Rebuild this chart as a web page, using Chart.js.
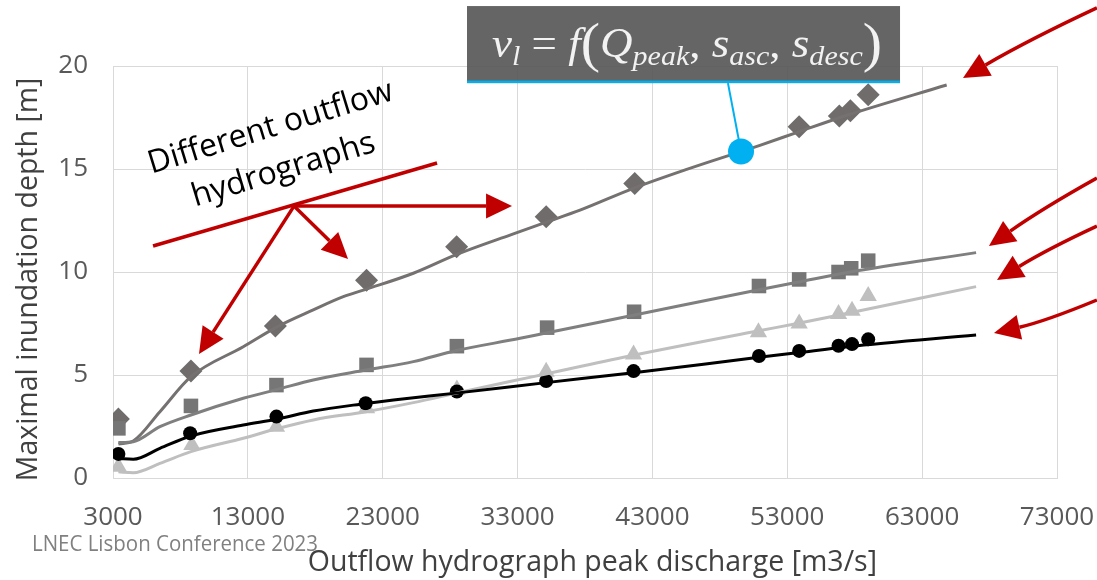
<!DOCTYPE html>
<html><head><meta charset="utf-8">
<script src="https://cdn.jsdelivr.net/npm/chart.js@4.4.1/dist/chart.umd.min.js"></script>
<style>html,body{margin:0;padding:0;background:#fff;}#wrap{width:1097px;height:580px;position:relative}</style>
</head><body><div id="wrap"><canvas id="c" width="1097" height="580"></canvas></div>
<script>
// ---- tick labels ----
const xTicks = [3000, 13000, 23000, 33000, 43000, 53000, 63000, 73000];
const yTicks = [0, 5, 10, 15, 20];

// ---- measured points ----
const diamondX = [3400, 8780, 15040, 21800, 28480, 35120, 41690, 53880, 56860, 57680, 59000];
const diamondY = [2.86, 5.2, 7.38, 9.6, 11.22, 12.68, 14.3, 17.05, 17.57, 17.83, 18.6];

const squareX = [3400, 8780, 15120, 21800, 28500, 35190, 41640, 50900, 53880, 56800, 57740, 59000];
const squareY = [2.41, 3.5, 4.51, 5.49, 6.4, 7.3, 8.07, 9.32, 9.64, 10.0, 10.18, 10.55];

const triangleX = [3400, 8850, 15120, 21800, 28500, 35120, 41600, 50860, 53880, 56800, 57800, 59000];
const triangleY = [0.55, 1.6, 2.49, 3.38, 4.3, 5.16, 6.0, 7.07, 7.5, 7.96, 8.12, 8.83];

const circleX = [3400, 8720, 15120, 21740, 28500, 35120, 41600, 50900, 53880, 56800, 57800, 59000];
const circleY = [1.17, 2.17, 2.98, 3.63, 4.2, 4.71, 5.19, 5.92, 6.17, 6.42, 6.5, 6.73];

// ---- fitted curves ----
const diamondFitX = [3400, 4500, 6480, 8780, 12660, 15200, 17850, 20080, 21760, 25270, 28410, 32690, 35030, 37630, 41580, 45540, 50970, 53740, 57480, 64820];
const diamondFitY = [1.65, 1.8, 3.22, 4.92, 6.37, 7.35, 8.16, 8.8, 9.16, 9.94, 10.83, 11.85, 12.4, 13.0, 14.06, 14.98, 16.15, 16.78, 17.62, 19.08];

const squareFitX = [3400, 4500, 6480, 8780, 12660, 15200, 17850, 21760, 25270, 28410, 33190, 35100, 41580, 50900, 53740, 57480, 67000];
const squareFitY = [1.72, 1.76, 2.49, 3.06, 3.87, 4.3, 4.76, 5.24, 5.65, 6.18, 6.78, 7.04, 7.9, 9.14, 9.5, 9.98, 10.94];

const triangleFitX = [3400, 4500, 6480, 8780, 12660, 15200, 17850, 21760, 25270, 28410, 32690, 35100, 41580, 50900, 53740, 57480, 67000];
const triangleFitY = [0.3, 0.26, 0.71, 1.28, 1.93, 2.4, 2.82, 3.22, 3.66, 4.11, 4.72, 5.05, 5.96, 7.15, 7.5, 8.0, 9.29];

const circleFitX = [3400, 4500, 6480, 8780, 12660, 15200, 17850, 21760, 23800, 28410, 35120, 41600, 50900, 53740, 57480, 67000];
const circleFitY = [0.95, 0.91, 1.44, 2.04, 2.57, 2.86, 3.25, 3.62, 3.79, 4.12, 4.63, 5.11, 5.86, 6.08, 6.37, 6.94];

// ---- annotation anchors (data units) ----
const bracketLine = [[5970, 11.26], [27030, 15.29]];
const bracketJoint = [16420, 13.2];
const bracketTips = [[32590, 13.2], [20430, 10.63], [9380, 6.02]];
const rightArrows = [
  {from: [75960, 22.82], ctrl: [71000, 21.3], tip: [66030, 19.42]},
  {from: [75960, 14.56], ctrl: [71960, 13.1], tip: [67955, 11.26]},
  {from: [75960, 12.23], ctrl: [72256, 11.1], tip: [68550, 9.61]},
  {from: [75960, 8.64], ctrl: [72108, 7.6], tip: [68330, 7.04]}
];
const formulaBox = [[29250, 22.91], [61360, 19.17]];
const calloutDot = [49570, 15.85];
const calloutFoot = [48600, 19.17];
const labelCenter = [15161, 15.97];
const labelLines = ['Different outflow', 'hydrographs'];
const footerText = 'LNEC Lisbon Conference 2023';

const pts = (xs, ys) => xs.map((v, i) => ({x: v, y: ys[i]}));
const FONT = '"Open Sans", "Liberation Sans", sans-serif';

const RED = '#c00000';
function arrowHead(ctx, tip, from, len, hw) {
  const a = Math.atan2(tip[1] - from[1], tip[0] - from[0]);
  const bx = tip[0] - len * Math.cos(a), by = tip[1] - len * Math.sin(a);
  ctx.beginPath();
  ctx.moveTo(tip[0], tip[1]);
  ctx.lineTo(bx + hw * Math.sin(a), by - hw * Math.cos(a));
  ctx.lineTo(bx - hw * Math.sin(a), by + hw * Math.cos(a));
  ctx.closePath();
  ctx.fill();
  return [bx, by];
}

function drawFormula(ctx, left, baseline, targetW) {
  const main = 'italic 42px "Liberation Serif"';
  const up = '42px "Liberation Serif"';
  const sub = 'italic 28px "Liberation Serif"';
  const par = '54px "Liberation Serif"';
  const parts = [
    ['ν', main, 0], ['l', sub, 8], [' = ', up, 0], ['f', main, 0], ['(', par, 4],
    ['Q', main, 0], ['peak', sub, 8], [', ', up, 0], ['s', main, 0], ['asc', sub, 8],
    [', ', up, 0], ['s', main, 0], ['desc', sub, 8], [')', par, 4]
  ];
  let total = 0;
  parts.forEach(p => { ctx.font = p[1]; p.push(ctx.measureText(p[0]).width); total += p[3]; });
  const s = targetW / total;
  ctx.save();
  ctx.translate(left, baseline);
  ctx.scale(s, 1);
  ctx.fillStyle = '#f2f2f2';
  ctx.textBaseline = 'alphabetic';
  ctx.textAlign = 'left';
  let cx = 0;
  parts.forEach(p => { ctx.font = p[1]; ctx.fillText(p[0], cx, p[2]); cx += p[3]; });
  ctx.restore();
}

const overlay = {
  id: 'overlay',
  afterDraw(chart) {
    const {ctx, scales: {x, y}} = chart;
    const P = p => [x.getPixelForValue(p[0]), y.getPixelForValue(p[1])];
    ctx.save();

    // formula box
    const b0 = P(formulaBox[0]), b1 = P(formulaBox[1]);
    ctx.fillStyle = 'rgba(84,84,84,0.9)';
    ctx.fillRect(b0[0], b0[1], b1[0] - b0[0], b1[1] - b0[1]);
    ctx.fillStyle = '#00b0f0';
    ctx.fillRect(b0[0], b1[1] - 2.5, b1[0] - b0[0], 2.5);
    drawFormula(ctx, b0[0] + 25, b0[1] + 51, 390);

    // callout line and dot
    const d = P(calloutDot), f = P(calloutFoot);
    ctx.strokeStyle = '#00b0f0'; ctx.lineWidth = 2;
    ctx.beginPath(); ctx.moveTo(f[0], f[1]); ctx.lineTo(d[0], d[1]); ctx.stroke();
    ctx.fillStyle = '#00b0f0';
    ctx.beginPath(); ctx.arc(d[0], d[1], 13, 0, Math.PI * 2); ctx.fill();

    // red bracket + arrows
    ctx.strokeStyle = RED; ctx.fillStyle = RED; ctx.lineWidth = 3.5; ctx.lineCap = 'butt';
    const l0 = P(bracketLine[0]), l1 = P(bracketLine[1]);
    ctx.beginPath(); ctx.moveTo(l0[0], l0[1]); ctx.lineTo(l1[0], l1[1]); ctx.stroke();
    const j = P(bracketJoint);
    bracketTips.forEach(t => {
      const tp = P(t);
      const base = arrowHead(ctx, tp, j, 26, 12.5);
      ctx.beginPath(); ctx.moveTo(j[0], j[1]); ctx.lineTo(base[0], base[1]); ctx.stroke();
    });
    rightArrows.forEach(a => {
      const s = P(a.from), c = P(a.ctrl), t = P(a.tip);
      const base = arrowHead(ctx, t, c, 26, 12.5);
      ctx.beginPath(); ctx.moveTo(s[0], s[1]); ctx.quadraticCurveTo(c[0], c[1], base[0], base[1]); ctx.stroke();
    });

    // label text
    const lc = P(labelCenter);
    ctx.save();
    ctx.translate(lc[0], lc[1]);
    ctx.rotate(-17 * Math.PI / 180);
    ctx.fillStyle = '#000';
    ctx.font = '32px ' + FONT;
    ctx.textAlign = 'center'; ctx.textBaseline = 'middle';
    ctx.fillText(labelLines[0], 0, -22);
    ctx.fillText(labelLines[1], 0, 22);
    ctx.restore();

    // footer
    ctx.fillStyle = '#808080';
    ctx.font = '21px ' + FONT;
    ctx.textAlign = 'left'; ctx.textBaseline = 'alphabetic';
    ctx.fillText(footerText, 32, 551, 286);
    ctx.restore();
  }
};

const lineDS = (label, xs, ys, color, w) => ({
  label, data: pts(xs, ys), showLine: true, borderColor: color, borderWidth: w,
  pointRadius: 0, tension: 0.4, cubicInterpolationMode: 'monotone', fill: false
});
const markDS = (label, xs, ys, color, style, r) => ({
  label, data: pts(xs, ys), showLine: false, pointStyle: style, pointRadius: r,
  backgroundColor: color, borderColor: color, borderWidth: 0
});

new Chart(document.getElementById('c'), {
  type: 'scatter',
  data: {
    datasets: [
      lineDS('Fit 4', circleFitX, circleFitY, '#000000', 3),
      lineDS('Fit 3', triangleFitX, triangleFitY, '#bfbfbf', 3),
      lineDS('Fit 2', squareFitX, squareFitY, '#7f7f7f', 3),
      lineDS('Fit 1', diamondFitX, diamondFitY, '#767171', 3),
      markDS('Hydrograph 4', circleX, circleY, '#000000', 'circle', 7),
      markDS('Hydrograph 3', triangleX, triangleY, '#bfbfbf', 'triangle', 10),
      markDS('Hydrograph 2', squareX, squareY, '#767676', 'rect', 10.3),
      markDS('Hydrograph 1', diamondX, diamondY, '#706c6c', 'rectRot', 11.5)
    ]
  },
  options: {
    responsive: false,
    animation: false,
    layout: {padding: {top: 66, right: 40, bottom: 0, left: 0}},
    plugins: {legend: {display: false}, tooltip: {enabled: false}},
    scales: {
      x: {
        type: 'linear', min: 3000, max: 73000,
        afterBuildTicks: s => { s.ticks = xTicks.map(v => ({value: v})); },
        afterFit: s => { s.height = 102; s.paddingLeft = 0; s.paddingRight = 0; },
        grid: {color: '#d9d9d9', lineWidth: 1, drawTicks: false},
        border: {color: '#d9d9d9'},
        ticks: {color: '#595959', font: {family: FONT, size: 26}, padding: 24, maxRotation: 0, autoSkip: false,
                callback: v => String(v)},
        title: {display: true, text: '  Outflow hydrograph peak discharge [m3/s]', color: '#404040',
                font: {family: FONT, size: 28.5}, padding: {top: 0, bottom: 0}}
      },
      y: {
        min: 0, max: 20,
        afterBuildTicks: s => { s.ticks = yTicks.map(v => ({value: v})); },
        afterFit: s => { s.width = 113; s.paddingTop = 0; s.paddingBottom = 0; },
        grid: {color: '#d9d9d9', lineWidth: 1, drawTicks: false},
        border: {color: '#d9d9d9'},
        ticks: {color: '#595959', font: {family: FONT, size: 26}, padding: 25, callback: v => String(v)},
        title: {display: true, text: 'Maximal inundation depth [m]  ', color: '#404040',
                font: {family: FONT, size: 28.5}, padding: {top: 12, bottom: 0}}
      }
    }
  },
  plugins: [overlay]
});
</script>
</body></html>
